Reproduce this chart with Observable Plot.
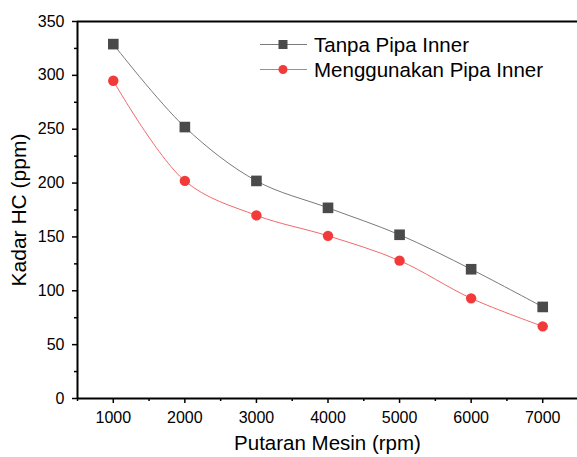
<!DOCTYPE html>
<html>
<head>
<meta charset="utf-8">
<script src="https://cdn.jsdelivr.net/npm/d3@7"></script>
<script src="https://cdn.jsdelivr.net/npm/@observablehq/plot@0.6"></script>
<style>
  html, body { margin: 0; padding: 0; background: #fff; overflow: hidden; }
  #wrap { position: relative; width: 577px; height: 457px; overflow: hidden; }
  #legend { position: absolute; left: 260px; top: 32px; font-family: "Liberation Sans", Arial, sans-serif; font-size: 20.5px; color: #000; }
  #legend .row { display: flex; align-items: center; height: 25px; }
  #legend svg { margin-right: 7px; }
</style>
</head>
<body>
<div id="wrap"></div>
<script>
const rpm = [1000, 2000, 3000, 4000, 5000, 6000, 7000];
const tanpa = [329, 252, 202, 177, 152, 120, 85];
const menggunakan = [295, 202, 170, 151, 128, 93, 67];
const seriesNames = ["Tanpa Pipa Inner", "Menggunakan Pipa Inner"];
const xTicks = [1000, 2000, 3000, 4000, 5000, 6000, 7000];
const xMinor = [500, 1500, 2500, 3500, 4500, 5500, 6500, 7500];
const yTicks = [0, 50, 100, 150, 200, 250, 300, 350];
const yMinor = [25, 75, 125, 175, 225, 275, 325];

const dataT = rpm.map((r, i) => ({rpm: r, hc: tanpa[i]}));
const dataM = rpm.map((r, i) => ({rpm: r, hc: menggunakan[i]}));

const gray = "#4a4a4a", grayLine = "#7a7a7a";
const red = "#f23a3a", redLine = "#f26a6a";

const chart = Plot.plot({
  width: 577,
  height: 457,
  marginLeft: 77,
  marginTop: 21,
  marginBottom: 59,
  marginRight: 0,
  style: {fontFamily: "Liberation Sans, Arial, sans-serif", fontSize: "16px", color: "#000", background: "#fff", overflow: "hidden"},
  x: {domain: [500, 7500], range: [77, 578]},
  y: {domain: [0, 350], range: [398, 21]},
  marks: [
    Plot.axisX({ticks: xTicks, tickSize: 5, tickPadding: 8, tickFormat: d => String(d), fontSize: 16, label: null, strokeWidth: 1.5}),
    Plot.axisX({ticks: xMinor, tickSize: 3, tickFormat: () => "", label: null, strokeWidth: 1.5}),
    Plot.axisY({ticks: yTicks, tickSize: 5, tickPadding: 8, fontSize: 16, label: null, strokeWidth: 1.5}),
    Plot.axisY({ticks: yMinor, tickSize: 3, tickFormat: () => "", label: null, strokeWidth: 1.5}),
    Plot.ruleX([500], {stroke: "#000", strokeWidth: 2}),
    Plot.ruleY([0], {stroke: "#000", strokeWidth: 2}),
    Plot.ruleY([350], {stroke: "#000", strokeWidth: 2}),
    Plot.line(dataT, {x: "rpm", y: "hc", curve: "catmull-rom", stroke: grayLine, strokeWidth: 1}),
    Plot.line(dataM, {x: "rpm", y: "hc", curve: "catmull-rom", stroke: redLine, strokeWidth: 1}),
    Plot.dot(dataT, {x: "rpm", y: "hc", symbol: "square", r: 6, fill: gray, stroke: "none"}),
    Plot.dot(dataM, {x: "rpm", y: "hc", symbol: "circle", r: 5.2, fill: red, stroke: "none"}),
    Plot.text(["Putaran Mesin (rpm)"], {frameAnchor: "bottom", dy: 51, fontSize: 20.5, textAnchor: "middle", text: d => d}),
    Plot.text(["Kadar HC (ppm)"], {frameAnchor: "left", dx: -58, rotate: -90, fontSize: 21, textAnchor: "middle", lineAnchor: "middle", text: d => d})
  ]
});

const wrap = document.getElementById("wrap");
wrap.appendChild(chart);

const legend = document.createElement("div");
legend.id = "legend";
const styles = [
  {line: grayLine, fill: gray, shape: "square"},
  {line: redLine, fill: red, shape: "circle"}
];
seriesNames.forEach((name, i) => {
  const s = styles[i];
  const row = document.createElement("div");
  row.className = "row";
  const marker = s.shape === "square"
    ? `<rect x="18.5" y="6" width="9" height="9" fill="${s.fill}"/>`
    : `<circle cx="23" cy="10.5" r="4.5" fill="${s.fill}"/>`;
  row.innerHTML = `<svg width="47" height="21"><line x1="0" x2="47" y1="10.5" y2="10.5" stroke="${s.line}" stroke-width="1.2"/>${marker}</svg><span>${name}</span>`;
  legend.appendChild(row);
});
wrap.appendChild(legend);
</script>
</body>
</html>
